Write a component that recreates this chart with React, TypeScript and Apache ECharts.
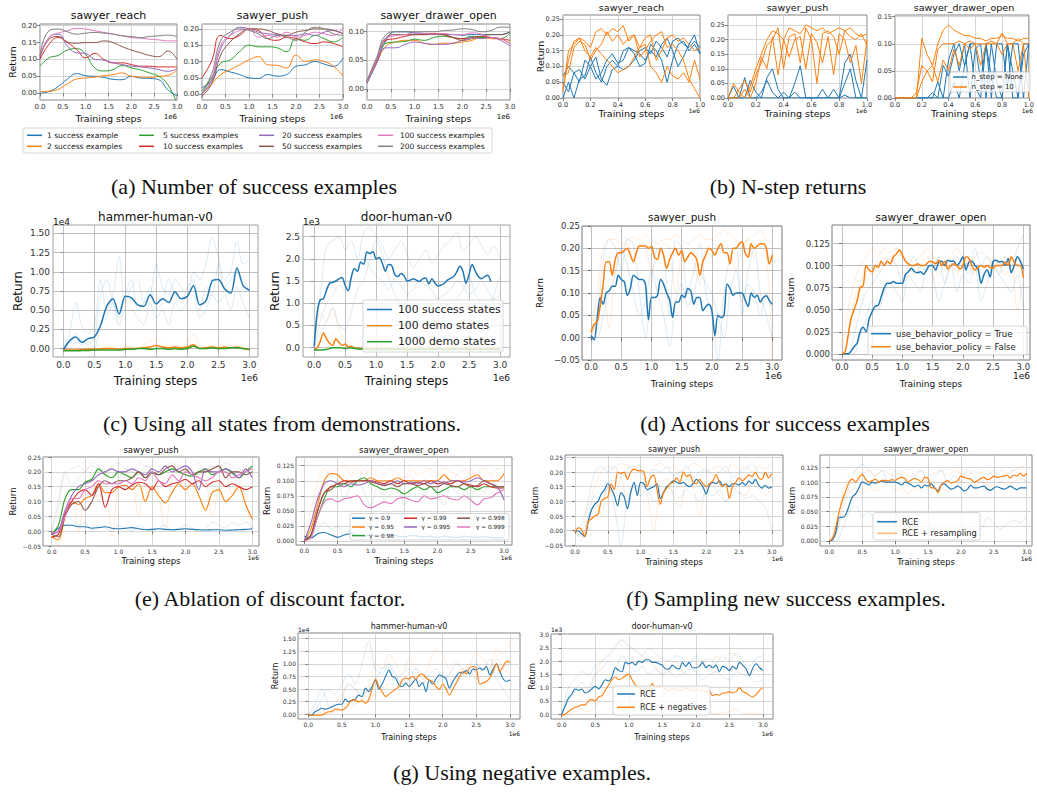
import React, { useEffect, useRef } from "react";
import * as echarts from "echarts";

const BLUE = "#1f77b4", ORANGE = "#ff7f0e", GREEN = "#2ca02c", RED = "#d62728";
const PURPLE = "#9467bd", BROWN = "#8c564b", PINK = "#e377c2", GRAY = "#7f7f7f";
const SANS = "DejaVu Sans";
const SERIF = "Liberation Serif";

// ---------- tick values ----------
const xTicks3 = [0, 0.5, 1, 1.5, 2, 2.5, 3];
const xTicks1 = [0, 0.2, 0.4, 0.6, 0.8, 1.0];
const yTicksA = [0, 0.05, 0.1, 0.15, 0.2];
const yTicksA3 = [0, 0.05, 0.1];
const yTicksB = [0, 0.05, 0.1, 0.15, 0.2, 0.25];
const yTicksB3 = [0, 0.05, 0.1, 0.15];
const yTicksHammer = [0, 0.25, 0.5, 0.75, 1.0, 1.25, 1.5];
const yTicksDoorC = [0, 0.5, 1.0, 1.5, 2.0, 2.5];
const yTicksDoorG = [0, 0.5, 1.0, 1.5, 2.0, 2.5, 3.0];
const yTicksPush = [-0.05, 0, 0.05, 0.1, 0.15, 0.2, 0.25];
const yTicksDrawer = [0, 0.025, 0.05, 0.075, 0.1, 0.125];

// ---------- (a) number of success examples: x step 0.2 ----------
const aLabels = ["1 success example", "2 success examples", "5 success examples", "10 success examples", "20 success examples", "50 success examples", "100 success examples", "200 success examples"];
const aReach1 = [0.000, 0.005, 0.020, 0.042, 0.058, 0.052, 0.050, 0.047, 0.041, 0.040, 0.050, 0.045, 0.044, 0.040, 0.010, -0.008];
const aReach2 = [0.005, 0.006, 0.012, 0.028, 0.042, 0.045, 0.048, 0.052, 0.055, 0.060, 0.050, 0.048, 0.047, 0.050, 0.053, 0.068];
const aReach5 = [0.080, 0.105, 0.112, 0.128, 0.132, 0.115, 0.075, 0.066, 0.070, 0.082, 0.075, 0.069, 0.060, 0.050, 0.025, -0.030];
const aReach10 = [0.100, 0.145, 0.165, 0.150, 0.130, 0.105, 0.118, 0.100, 0.090, 0.090, 0.085, 0.080, 0.080, 0.078, 0.078, 0.078];
const aReach20 = [0.110, 0.165, 0.175, 0.140, 0.120, 0.118, 0.100, 0.098, 0.090, 0.085, 0.080, 0.078, 0.075, 0.070, 0.065, 0.072];
const aReach50 = [0.105, 0.160, 0.168, 0.152, 0.148, 0.150, 0.150, 0.155, 0.150, 0.138, 0.128, 0.120, 0.112, 0.108, 0.125, 0.100];
const aReach100 = [0.110, 0.165, 0.178, 0.185, 0.192, 0.190, 0.185, 0.180, 0.175, 0.170, 0.165, 0.163, 0.160, 0.158, 0.155, 0.155];
const aReach200 = [0.110, 0.185, 0.190, 0.182, 0.175, 0.178, 0.180, 0.178, 0.175, 0.170, 0.168, 0.165, 0.168, 0.170, 0.172, 0.168];

const aPush1 = [0.020, 0.040, 0.075, 0.068, 0.060, 0.050, 0.048, 0.060, 0.055, 0.060, 0.085, 0.090, 0.100, 0.092, 0.085, 0.110];
const aPush2 = [0.000, 0.030, 0.060, 0.075, 0.090, 0.105, 0.115, 0.090, 0.088, 0.080, 0.120, 0.100, 0.105, 0.100, 0.085, 0.055];
const aPush5 = [0.000, 0.050, 0.095, 0.105, 0.130, 0.150, 0.145, 0.145, 0.142, 0.130, 0.170, 0.165, 0.180, 0.170, 0.160, 0.175];
const aPush10 = [0.050, 0.100, 0.180, 0.170, 0.180, 0.200, 0.195, 0.170, 0.165, 0.175, 0.170, 0.160, 0.155, 0.160, 0.155, 0.145];
const aPush20 = [0.000, 0.040, 0.140, 0.180, 0.205, 0.200, 0.190, 0.185, 0.182, 0.180, 0.180, 0.185, 0.180, 0.190, 0.195, 0.185];
const aPush50 = [-0.005, 0.030, 0.120, 0.160, 0.185, 0.200, 0.200, 0.195, 0.185, 0.180, 0.190, 0.195, 0.200, 0.200, 0.195, 0.185];
const aPush100 = [0.000, 0.045, 0.150, 0.180, 0.195, 0.200, 0.175, 0.180, 0.175, 0.190, 0.175, 0.180, 0.190, 0.185, 0.180, 0.205];
const aPush200 = [0.010, 0.060, 0.165, 0.190, 0.200, 0.195, 0.185, 0.170, 0.180, 0.175, 0.165, 0.190, 0.205, 0.200, 0.185, 0.180];

const aDrawer1 = [0.010, 0.045, 0.085, 0.100, 0.100, 0.098, 0.097, 0.096, 0.095, 0.095, 0.094, 0.095, 0.095, 0.095, 0.095, 0.100];
const aDrawer2 = [0.012, 0.045, 0.075, 0.082, 0.085, 0.085, 0.080, 0.078, 0.080, 0.080, 0.082, 0.085, 0.090, 0.088, 0.087, 0.080];
const aDrawer5 = [0.012, 0.050, 0.080, 0.082, 0.083, 0.087, 0.085, 0.090, 0.092, 0.090, 0.088, 0.092, 0.090, 0.090, 0.088, 0.098];
const aDrawer10 = [0.012, 0.050, 0.085, 0.088, 0.092, 0.095, 0.095, 0.097, 0.095, 0.090, 0.088, 0.090, 0.092, 0.090, 0.088, 0.085];
const aDrawer20 = [0.012, 0.045, 0.072, 0.072, 0.078, 0.082, 0.080, 0.078, 0.078, 0.080, 0.085, 0.090, 0.088, 0.090, 0.085, 0.075];
const aDrawer50 = [0.015, 0.050, 0.090, 0.095, 0.095, 0.095, 0.095, 0.095, 0.095, 0.090, 0.085, 0.088, 0.092, 0.095, 0.095, 0.100];
const aDrawer100 = [0.012, 0.050, 0.088, 0.093, 0.095, 0.098, 0.097, 0.096, 0.097, 0.095, 0.095, 0.098, 0.096, 0.090, 0.088, 0.078];
const aDrawer200 = [0.015, 0.055, 0.095, 0.100, 0.100, 0.100, 0.100, 0.100, 0.102, 0.103, 0.105, 0.104, 0.100, 0.102, 0.108, 0.108];

// ---------- (b) n-step returns: x step 0.04 ----------
const bReachO1 = [0.02, 0.15, 0.17, 0.19, 0.18, 0.16, 0.21, 0.22, 0.20, 0.22, 0.21, 0.23, 0.18, 0.20, 0.16, 0.19, 0.20, 0.12, 0.15, 0.19, 0.20, 0.18, 0.19, 0.17, 0.15, 0.16];
const bReachO2 = [0.07, 0.08, 0.16, 0.18, 0.17, 0.12, 0.15, 0.17, 0.21, 0.18, 0.20, 0.17, 0.19, 0.20, 0.13, 0.15, 0.18, 0.20, 0.21, 0.16, 0.17, 0.15, 0.12, 0.06, 0.03, 0.00];
const bReachO3 = [0.03, 0.12, 0.18, 0.19, 0.15, 0.13, 0.16, 0.14, 0.12, 0.10, 0.08, 0.09, 0.10, 0.13, 0.16, 0.17, 0.10, 0.08, 0.05, 0.10, 0.07, 0.06, 0.08, 0.05, 0.12, 0.06];
const bReachB1 = [0.07, 0.10, 0.08, 0.05, 0.12, 0.10, 0.06, 0.08, 0.12, 0.14, 0.11, 0.12, 0.16, 0.15, 0.14, 0.12, 0.15, 0.13, 0.17, 0.19, 0.15, 0.10, 0.13, 0.17, 0.20, 0.14];
const bReachB2 = [0.00, 0.05, 0.00, 0.06, 0.07, 0.13, 0.08, 0.05, 0.10, 0.12, 0.10, 0.15, 0.16, 0.14, 0.10, 0.11, 0.17, 0.15, 0.12, 0.05, 0.12, 0.17, 0.18, 0.15, 0.17, 0.14];
const bReachB3 = [0.05, 0.02, 0.08, 0.09, 0.06, 0.10, 0.13, 0.06, 0.04, 0.09, 0.10, 0.09, 0.10, 0.12, 0.15, 0.16, 0.14, 0.18, 0.16, 0.13, 0.18, 0.19, 0.17, 0.16, 0.18, 0.16];

const bPushO1 = [0.00, 0.05, 0.02, 0.00, 0.04, 0.10, 0.15, 0.20, 0.23, 0.22, 0.20, 0.24, 0.23, 0.22, 0.25, 0.24, 0.23, 0.24, 0.22, 0.23, 0.24, 0.23, 0.24, 0.22, 0.21, 0.22];
const bPushO2 = [0.00, 0.00, 0.03, 0.06, 0.02, 0.08, 0.12, 0.18, 0.20, 0.24, 0.10, 0.21, 0.22, 0.12, 0.24, 0.20, 0.05, 0.22, 0.23, 0.21, 0.15, 0.23, 0.21, 0.20, 0.22, 0.18];
const bPushO3 = [0.00, 0.00, 0.00, 0.03, 0.00, 0.05, 0.14, 0.10, 0.21, 0.08, 0.20, 0.14, 0.20, 0.21, 0.10, 0.22, 0.19, 0.12, 0.21, 0.08, 0.22, 0.20, 0.12, 0.18, 0.05, 0.20];
const bPushB1 = [0.00, 0.04, 0.00, 0.00, 0.06, 0.02, 0.00, 0.07, 0.10, 0.03, 0.00, 0.00, 0.02, 0.00, 0.00, 0.00, 0.00, 0.00, 0.00, 0.03, 0.00, 0.01, 0.00, 0.00, 0.00, 0.00];
const bPushB2 = [0.00, 0.00, 0.00, 0.07, 0.00, 0.00, 0.02, 0.06, 0.02, 0.00, 0.00, 0.00, 0.05, 0.11, 0.00, 0.00, 0.00, 0.00, 0.00, 0.00, 0.00, 0.05, 0.10, 0.00, 0.00, 0.13];
const bPushB3 = [0.00, 0.00, 0.00, 0.00, 0.00, 0.00, 0.00, 0.00, 0.00, 0.00, 0.02, 0.00, 0.00, 0.00, 0.00, 0.00, 0.00, 0.03, 0.00, 0.00, 0.00, 0.12, 0.15, 0.06, 0.00, 0.00];

const bDrawerO1 = [0, 0, 0, 0, 0, 0.11, 0.08, 0.06, 0.10, 0.125, 0.135, 0.125, 0.12, 0.115, 0.115, 0.11, 0.11, 0.105, 0.11, 0.11, 0.115, 0.11, 0.11, 0.105, 0.11, 0.11];
const bDrawerO2 = [0, 0, 0, 0, 0.01, 0.06, 0.05, 0.03, 0.09, 0.10, 0.10, 0.10, 0.105, 0.10, 0.105, 0.10, 0.10, 0.10, 0.105, 0.10, 0.12, 0.10, 0.10, 0.11, 0.10, 0.10];
const bDrawerO3 = [0, 0, 0, 0, 0, 0.03, 0.05, 0.06, 0.03, 0.07, 0.05, 0.09, 0.06, 0.10, 0.09, 0.10, 0.06, 0.10, 0.10, 0.10, 0.08, 0.10, 0.10, 0.05, 0.10, 0.00];
const bDrawerB1 = [0, 0, 0, 0, 0, 0, 0, 0.01, 0, 0.06, 0.04, 0.08, 0.10, 0.06, 0.10, 0.10, 0.03, 0.10, 0, 0.10, 0.10, 0.02, 0.10, 0.10, 0, 0.10];
const bDrawerB2 = [0, 0, 0, 0, 0, 0, 0, 0, 0.03, 0, 0.07, 0.10, 0.05, 0.10, 0, 0.09, 0.10, 0, 0.10, 0.03, 0, 0.10, 0.05, 0, 0.08, 0.10];
const bDrawerB3 = [0, 0, 0, 0, 0, 0, 0, 0, 0, 0, 0, 0.03, 0, 0.06, 0.10, 0.02, 0, 0.10, 0.04, 0, 0, 0.10, 0, 0, 0.10, 0.10];

// ---------- (c) all states from demonstrations ----------
// hammer (x step 0.1, values in 1e4)
const cHammerRCE = [-0.02, 0.10, 0.15, 0.08, 0.13, 0.15, 0.30, 0.55, 0.65, 0.45, 0.68, 0.66, 0.57, 0.55, 0.70, 0.58, 0.65, 0.60, 0.74, 0.65, 0.68, 0.82, 0.57, 0.62, 0.88, 0.90, 0.78, 0.72, 1.05, 0.82, 0.76];
const cHammerDemo100 = [-0.02, -0.02, -0.02, -0.015, -0.01, -0.01, -0.005, 0.0, 0.0, -0.01, 0.0, 0.0, 0.0, 0.01, 0.02, 0.04, 0.02, 0.01, 0.02, 0.01, 0.02, 0.05, 0.0, 0.01, 0.02, 0.01, 0.02, 0.01, 0.02, 0.0, -0.01];
const cHammerDemo1000 = [-0.03, -0.03, -0.03, -0.025, -0.025, -0.02, -0.02, -0.02, -0.02, -0.02, -0.01, -0.01, 0.0, 0.0, -0.01, 0.0, 0.0, -0.01, 0.0, -0.01, 0.0, 0.03, 0.0, 0.0, 0.01, 0.0, 0.0, 0.01, 0.01, 0.0, -0.01];
const cHammerSeed1 = [0, 0.2, 0.6, 0.3, 0.2, 0.3, 0.9, 0.5, 0.7, 1.2, 0.6, 0.8, 0.9, 0.6, 0.7, 1.1, 0.8, 0.7, 0.9, 0.8, 0.7, 1.0, 0.9, 1.1, 1.45, 1.2, 0.9, 1.0, 1.4, 1.1, 1.15];
const cHammerSeed2 = [0, 0.05, 0.2, 0.1, 0.05, 0.15, 0.7, 0.9, 0.6, 0.4, 0.7, 0.9, 0.5, 0.6, 0.8, 0.5, 0.6, 0.9, 0.7, 0.6, 0.8, 0.9, 0.5, 0.8, 0.7, 1.1, 0.8, 0.9, 1.0, 0.9, 0.75];
const cHammerSeed3 = [0, 0, 0.1, 0.05, 0.1, 0.0, 0.3, 0.4, 0.6, 0.3, 0.5, 0.5, 0.4, 0.3, 0.6, 0.4, 0.5, 0.3, 0.6, 0.5, 0.6, 0.7, 0.4, 0.5, 0.7, 0.6, 0.7, 0.5, 0.8, 0.6, 0.4];
const cHammerSeedDemo = [0, 0, 0, 0, 0, 0, 0, 0.02, 0, 0, 0.03, 0.02, 0, 0.05, 0.1, 0.12, 0.04, 0.02, 0.05, 0.03, 0.1, 0.2, 0.05, 0.02, 0.04, 0.03, 0.06, 0.04, 0.05, 0.02, 0];
// door (values in 1e3)
const cDoorRCE = [0.04, 0.8, 1.08, 1.1, 1.3, 1.45, 1.47, 1.5, 1.55, 1.58, 1.4, 1.28, 1.59, 1.78, 1.72, 1.92, 1.88, 2.15, 2.12, 2.16, 2.0, 2.03, 1.9, 1.72, 1.87, 1.85, 1.65, 1.6, 1.67, 1.62, 1.5, 1.52, 1.55, 1.52, 1.49, 1.55, 1.57, 1.43, 1.55, 1.45, 1.39, 1.41, 1.45, 1.52, 1.56, 1.6, 1.7, 1.83, 1.72, 1.45, 1.65, 1.87, 1.72, 1.6, 1.55, 1.6, 1.63, 1.49];
const cDoorDemo100 = [-0.05, 0.0, 0.15, 0.33, 0.2, 0.1, 0.05, 0.2, 0.12, 0.05, 0.08, 0.02, 0.03, -0.02, 0.0, -0.03, -0.03, -0.02, -0.03, -0.02, 0.0, -0.02, -0.03, -0.02, -0.01, -0.02, -0.03, -0.02, -0.02, -0.01, -0.02, -0.03, -0.02, -0.02, -0.01, 0.0, -0.02, -0.03, -0.02, -0.01, -0.02, -0.02, -0.03, -0.02, -0.01, -0.02, -0.03, -0.02, -0.02, -0.01, -0.02, -0.03, -0.02, -0.01, -0.02, -0.03, -0.02, -0.02, -0.01, -0.02, -0.03];
const cDoorDemo1000 = [-0.05, -0.05, -0.04, 0.0, 0.0, -0.02, 0.0, -0.03, -0.03, -0.04, -0.04, -0.03, -0.04, -0.04, -0.03, -0.04, -0.04, -0.03, -0.04, -0.04, -0.03, -0.04, -0.04, -0.03, -0.03, -0.04, -0.04, -0.03, -0.04, -0.04, -0.04];
const cDoorSeed1 = [0, 1.2, 2.3, 2.4, 2.5, 2.2, 2.4, 2.0, 2.6, 2.7, 2.5, 2.3, 2.0, 2.2, 2.4, 2.1, 1.8, 2.0, 2.2, 1.9, 2.1, 2.3, 2.4, 2.6, 2.2, 2.3, 2.5, 2.3, 2.1, 2.3, 2.0];
const cDoorSeed2 = [0, 0.6, 1.0, 1.2, 1.4, 1.3, 1.6, 1.8, 2.0, 1.8, 1.6, 1.5, 1.3, 1.5, 1.4, 1.2, 1.3, 1.5, 1.4, 1.3, 1.1, 1.2, 1.3, 1.5, 1.4, 1.2, 1.3, 1.5, 1.3, 1.1, 1.2];
const cDoorSeed3 = [0, 0.3, 0.6, 0.9, 0.5, 0.4, 0.8, 1.3, 1.5, 2.0, 2.4, 2.1, 1.6, 1.2, 1.0, 0.8, 1.1, 0.9, 1.0, 0.6, 0.5, 0.9, 1.0, 1.1, 1.3, 1.6, 1.2, 1.0, 0.8, 1.2, 1.6];
const cDoorSeedDemo = [0, 0.8, 0.6, 0.9, 0.4, 0.2, 0.1, 0.0, 0.05, 0.0, 0.02, 0.1, 0.2, 0.05, 0.1, 0.15, 0.05, 0.2, 0.1, 0.05, 0.15, 0.1, 0.05, 0.1, 0.2, 0.15, 0.1, 0.05, 0.1, 0.2, 0.15];

// ---------- (d) actions for success examples: x step 0.05 ----------
const dPushFalse = [0.012, 0.03, 0.035, 0.07, 0.12, 0.17, 0.17, 0.14, 0.175, 0.19, 0.19, 0.195, 0.2, 0.185, 0.17, 0.19, 0.205, 0.205, 0.205, 0.2, 0.205, 0.18, 0.175, 0.2, 0.185, 0.155, 0.175, 0.19, 0.2, 0.185, 0.195, 0.17, 0.18, 0.19, 0.185, 0.175, 0.14, 0.17, 0.185, 0.2, 0.195, 0.185, 0.2, 0.21, 0.19, 0.19, 0.165, 0.2, 0.2, 0.21, 0.215, 0.19, 0.18, 0.21, 0.2, 0.205, 0.21, 0.21, 0.2, 0.165, 0.185];
const dPushTrue = [0.005, -0.005, 0.04, 0.09, 0.075, 0.1, 0.105, 0.115, 0.115, 0.14, 0.13, 0.125, 0.095, 0.11, 0.14, 0.135, 0.13, 0.13, 0.12, 0.04, 0.09, 0.09, 0.095, 0.13, 0.12, 0.1, 0.085, 0.045, 0.08, 0.08, 0.095, 0.09, 0.11, 0.105, 0.075, 0.09, 0.09, 0.06, 0.07, 0.075, 0.06, 0.005, 0.05, 0.045, 0.05, 0.12, 0.11, 0.095, 0.1, 0.1, 0.1, 0.085, 0.07, 0.1, 0.09, 0.095, 0.08, 0.09, 0.094, 0.083, 0.075];
const dDrawerFalse = [0.0, 0.002, 0.02, 0.04, 0.05, 0.06, 0.075, 0.077, 0.1, 0.095, 0.093, 0.1, 0.098, 0.105, 0.1, 0.105, 0.102, 0.11, 0.113, 0.118, 0.112, 0.105, 0.102, 0.1, 0.1, 0.102, 0.1, 0.1, 0.102, 0.105, 0.104, 0.102, 0.106, 0.1, 0.105, 0.096, 0.1, 0.102, 0.1, 0.096, 0.1, 0.11, 0.108, 0.1, 0.095, 0.098, 0.1, 0.098, 0.1, 0.098, 0.097, 0.1, 0.1, 0.1, 0.104, 0.1, 0.11, 0.104, 0.1, 0.1, 0.086];
const dDrawerTrue = [0.0, 0.0, 0.0, 0.003, 0.008, 0.012, 0.025, 0.03, 0.025, 0.04, 0.048, 0.054, 0.055, 0.065, 0.075, 0.08, 0.08, 0.082, 0.08, 0.08, 0.08, 0.09, 0.093, 0.097, 0.093, 0.092, 0.093, 0.09, 0.095, 0.1, 0.1, 0.095, 0.104, 0.105, 0.1, 0.106, 0.105, 0.105, 0.1, 0.104, 0.11, 0.095, 0.104, 0.105, 0.1, 0.097, 0.08, 0.09, 0.095, 0.087, 0.105, 0.106, 0.104, 0.105, 0.1, 0.108, 0.092, 0.1, 0.11, 0.105, 0.096];
// faint seeds, x step 0.1
const dPushSeedT1 = [0, 0.05, 0.17, 0.22, 0.2, 0.15, 0.22, 0.21, 0.1, 0.0, 0.12, 0.2, 0.18, 0.05, 0.22, 0.2, 0.1, 0.15, 0.21, 0.1, 0.05, -0.05, 0.1, 0.18, 0.2, 0.05, 0.15, 0.2, 0.1, 0.05, 0.0];
const dPushSeedT2 = [0, 0.0, 0.05, 0.1, 0.14, 0.2, 0.16, 0.1, 0.05, 0.08, 0.15, 0.1, 0.05, -0.02, 0.08, 0.12, 0.07, 0.1, 0.15, 0.12, 0.1, 0.05, 0.0, 0.1, 0.15, 0.08, 0.12, 0.1, 0.05, 0.1, 0.06];
const dPushSeedF1 = [0.01, 0.1, 0.2, 0.22, 0.22, 0.21, 0.22, 0.225, 0.22, 0.23, 0.22, 0.21, 0.22, 0.22, 0.23, 0.22, 0.21, 0.22, 0.23, 0.22, 0.22, 0.23, 0.24, 0.23, 0.22, 0.21, 0.22, 0.23, 0.24, 0.22, 0.21];
const dPushSeedF2 = [0, 0.05, 0.12, 0.02, 0.15, 0.2, 0.21, 0.18, 0.21, 0.2, 0.15, 0.18, 0.21, 0.2, 0.1, 0.19, 0.2, 0.17, 0.12, 0.2, 0.18, 0.2, 0.21, 0.19, 0.15, 0.2, 0.22, 0.18, 0.2, 0.19, -0.05];
const dDrawerSeedT1 = [0, 0.0, 0.02, 0.05, 0.07, 0.08, 0.09, 0.1, 0.11, 0.1, 0.08, 0.1, 0.11, 0.09, 0.1, 0.1, 0.11, 0.08, 0.1, 0.11, 0.1, 0.09, 0.12, 0.1, 0.11, 0.1, 0.09, 0.11, 0.1, 0.12, 0.135];
const dDrawerSeedT2 = [0, 0.0, 0.0, 0.02, 0.04, 0.06, 0.05, 0.07, 0.08, 0.07, 0.06, 0.09, 0.08, 0.07, 0.1, 0.09, 0.06, 0.08, 0.1, 0.07, 0.09, 0.08, 0.1, 0.06, 0.08, 0.1, 0.09, 0.08, 0.07, 0.09, 0.05];
const dDrawerSeedF1 = [0, 0.05, 0.08, 0.1, 0.11, 0.12, 0.11, 0.12, 0.115, 0.12, 0.11, 0.1, 0.105, 0.11, 0.12, 0.11, 0.105, 0.1, 0.11, 0.12, 0.11, 0.1, 0.11, 0.115, 0.11, 0.1, 0.105, 0.11, 0.1, 0.105, 0.1];
const dDrawerSeedF2 = [0, 0.02, 0.06, 0.08, 0.1, 0.09, 0.1, 0.11, 0.1, 0.12, 0.11, 0.1, 0.09, 0.1, 0.11, 0.1, 0.09, 0.1, 0.1, 0.09, 0.11, 0.1, 0.09, 0.1, 0.1, 0.11, 0.1, 0.09, 0.1, 0.05, 0.08];

// ---------- (e) discount factor: x step 0.1 ----------
const eGammaLabels = ["γ = 0.9", "γ = 0.95", "γ = 0.98", "γ = 0.99", "γ = 0.995", "γ = 0.998", "γ = 0.999"];
const ePush09 = [-0.01, 0.01, 0.02, 0.02, 0.015, 0.015, 0.01, 0.012, 0.015, 0.01, 0.008, 0.01, 0.012, 0.008, 0.005, 0.006, 0.008, 0.006, 0.005, 0.006, 0.008, 0.006, 0.005, 0.004, 0.005, 0.005, 0.003, 0.004, 0.005, 0.006, 0.008];
const ePush095 = [-0.02, -0.03, 0.05, 0.1, 0.09, 0.11, 0.12, 0.16, 0.13, 0.13, 0.15, 0.155, 0.14, 0.16, 0.1, 0.15, 0.12, 0.095, 0.13, 0.16, 0.14, 0.16, 0.12, 0.07, 0.13, 0.14, 0.1, 0.12, 0.15, 0.09, 0.04];
const ePush098 = [-0.01, 0.02, 0.11, 0.14, 0.14, 0.165, 0.175, 0.21, 0.19, 0.18, 0.2, 0.19, 0.18, 0.2, 0.18, 0.195, 0.19, 0.2, 0.21, 0.2, 0.19, 0.185, 0.2, 0.21, 0.19, 0.2, 0.21, 0.195, 0.18, 0.2, 0.22];
const ePush099 = [-0.02, -0.01, 0.06, 0.1, 0.13, 0.14, 0.12, 0.16, 0.08, 0.14, 0.15, 0.14, 0.155, 0.165, 0.16, 0.14, 0.17, 0.15, 0.16, 0.165, 0.175, 0.16, 0.17, 0.15, 0.165, 0.17, 0.15, 0.16, 0.15, 0.14, 0.15];
const ePush0995 = [-0.01, 0.0, 0.07, 0.12, 0.15, 0.16, 0.17, 0.19, 0.2, 0.21, 0.2, 0.2, 0.21, 0.2, 0.19, 0.21, 0.2, 0.22, 0.2, 0.21, 0.22, 0.2, 0.14, 0.21, 0.2, 0.2, 0.21, 0.2, 0.18, 0.21, 0.18];
const ePush0998 = [-0.01, -0.02, 0.05, 0.09, 0.1, 0.07, 0.1, 0.15, 0.17, 0.16, 0.17, 0.17, 0.18, 0.2, 0.18, 0.2, 0.19, 0.21, 0.22, 0.2, 0.21, 0.19, 0.2, 0.2, 0.21, 0.22, 0.18, 0.2, 0.2, 0.19, 0.2];
const ePush0999 = [-0.005, 0.0, 0.05, 0.11, 0.11, 0.14, 0.15, 0.17, 0.16, 0.16, 0.16, 0.17, 0.16, 0.18, 0.17, 0.2, 0.17, 0.16, 0.19, 0.17, 0.2, 0.19, 0.18, 0.17, 0.18, 0.2, 0.2, 0.18, 0.19, 0.2, 0.21];
const ePushSeed1 = [0, 0.08, 0.2, 0.21, 0.22, 0.2, 0.23, 0.22, 0.19, 0.22, 0.23, 0.21, 0.2, 0.23, 0.22, 0.21, 0.19, 0.22, 0.23, 0.21, 0.2, 0.22, 0.23, 0.2, 0.22, 0.21, 0.23, 0.22, 0.19, 0.22, 0.21];
const ePushSeed2 = [0, -0.05, 0.05, 0.12, 0.0, 0.15, 0.18, 0.1, 0.2, -0.02, 0.15, 0.2, 0.18, 0.05, 0.17, 0.2, 0.12, 0.0, 0.18, 0.2, 0.15, 0.1, 0.2, 0.18, 0.05, 0.15, 0.2, 0.12, 0.18, 0.1, 0.0];
const ePushSeed3 = [0, 0.1, 0.2, 0.15, 0.18, 0.2, 0.22, 0.21, 0.2, 0.22, 0.18, 0.21, 0.2, 0.19, 0.22, 0.21, 0.2, 0.18, 0.21, 0.22, 0.2, 0.21, 0.19, 0.2, 0.22, 0.21, 0.2, 0.19, 0.21, 0.2, 0.22];
const ePushSeed4 = [0, 0.02, 0.05, 0.04, 0.02, 0.03, 0.0, 0.02, 0.01, 0.0, 0.02, 0.01, 0.0, 0.02, 0.01, 0.0, 0.01, 0.02, 0.0, 0.01, 0.02, 0.01, 0.0, 0.01, 0.03, 0.02, 0.01, 0.03, 0.02, 0.03, 0.01];
const eDrawer09 = [0.008, 0.005, 0.012, 0.014, 0.01, 0.006, 0.01, 0.012, 0.01, 0.008, 0.01, 0.008, 0.009, 0.01, 0.008, 0.007, 0.009, 0.008, 0.007, 0.008, 0.006, 0.008, 0.007, 0.006, 0.008, 0.007, 0.006, 0.007, 0.006, 0.005, 0.006];
const eDrawer095 = [0, 0.02, 0.06, 0.1, 0.112, 0.11, 0.1, 0.1, 0.1, 0.1, 0.105, 0.1, 0.1, 0.1, 0.105, 0.1, 0.1, 0.1, 0.1, 0.1, 0.1, 0.11, 0.1, 0.1, 0.1, 0.105, 0.11, 0.1, 0.1, 0.1, 0.112];
const eDrawer098 = [0, 0.01, 0.04, 0.07, 0.09, 0.09, 0.095, 0.09, 0.1, 0.105, 0.095, 0.09, 0.085, 0.088, 0.085, 0.078, 0.085, 0.09, 0.085, 0.09, 0.08, 0.085, 0.09, 0.09, 0.085, 0.09, 0.085, 0.09, 0.09, 0.09, 0.09];
const eDrawer099 = [0, 0.01, 0.05, 0.08, 0.09, 0.095, 0.1, 0.098, 0.1, 0.1, 0.1, 0.098, 0.095, 0.1, 0.095, 0.1, 0.095, 0.098, 0.095, 0.1, 0.095, 0.098, 0.095, 0.1, 0.095, 0.093, 0.09, 0.095, 0.09, 0.088, 0.088];
const eDrawer0995 = [0, 0.03, 0.07, 0.095, 0.1, 0.095, 0.09, 0.095, 0.093, 0.095, 0.1, 0.095, 0.093, 0.095, 0.1, 0.095, 0.098, 0.095, 0.1, 0.095, 0.1, 0.095, 0.1, 0.1, 0.098, 0.1, 0.105, 0.1, 0.095, 0.09, 0.068];
const eDrawer0998 = [0, 0.01, 0.05, 0.08, 0.085, 0.095, 0.095, 0.1, 0.1, 0.1, 0.098, 0.095, 0.092, 0.095, 0.09, 0.095, 0.095, 0.092, 0.095, 0.09, 0.09, 0.095, 0.092, 0.09, 0.095, 0.09, 0.092, 0.1, 0.095, 0.09, 0.09];
const eDrawer0999 = [0, 0.005, 0.04, 0.065, 0.07, 0.065, 0.07, 0.072, 0.075, 0.06, 0.055, 0.06, 0.065, 0.062, 0.07, 0.072, 0.068, 0.065, 0.075, 0.07, 0.072, 0.075, 0.07, 0.068, 0.075, 0.068, 0.06, 0.07, 0.072, 0.08, 0.085];
const eDrawerSeed1 = [0, 0.05, 0.1, 0.12, 0.11, 0.12, 0.125, 0.11, 0.12, 0.11, 0.12, 0.115, 0.11, 0.12, 0.11, 0.105, 0.12, 0.11, 0.115, 0.12, 0.11, 0.12, 0.115, 0.11, 0.12, 0.11, 0.115, 0.12, 0.11, 0.12, 0.11];
const eDrawerSeed2 = [0, 0.02, 0.06, 0.09, 0.08, 0.1, 0.07, 0.09, 0.1, 0.08, 0.06, 0.09, 0.07, 0.08, 0.1, 0.06, 0.08, 0.09, 0.07, 0.1, 0.08, 0.06, 0.09, 0.08, 0.1, 0.07, 0.09, 0.08, 0.1, 0.09, 0.07];
const eDrawerSeed3 = [0.005, 0.01, 0.02, 0.03, 0.02, 0.025, 0.01, 0.02, 0.015, 0.03, 0.02, 0.01, 0.02, 0.015, 0.01, 0.02, 0.01, 0.015, 0.005, 0.01, 0.02, 0.01, 0.005, 0.01, 0.015, 0.01, 0.005, 0.01, 0.015, 0.01, 0.005];
const eDrawerSeed4 = [0, 0.03, 0.08, 0.1, 0.12, 0.1, 0.11, 0.09, 0.1, 0.12, 0.1, 0.11, 0.09, 0.1, 0.08, 0.1, 0.11, 0.09, 0.1, 0.11, 0.1, 0.09, 0.1, 0.11, 0.1, 0.12, 0.1, 0.09, 0.1, 0.11, 0.1];

// ---------- (f) resampling: x step 0.05 ----------
const fPushRCE = [-0.005, 0.0, -0.01, -0.02, 0.03, 0.07, 0.09, 0.1, 0.125, 0.14, 0.16, 0.145, 0.12, 0.085, 0.13, 0.115, 0.075, 0.13, 0.165, 0.12, 0.165, 0.16, 0.14, 0.145, 0.15, 0.16, 0.11, 0.13, 0.15, 0.16, 0.17, 0.165, 0.16, 0.165, 0.155, 0.15, 0.16, 0.175, 0.165, 0.15, 0.125, 0.155, 0.165, 0.16, 0.17, 0.155, 0.16, 0.15, 0.16, 0.16, 0.155, 0.165, 0.155, 0.17, 0.16, 0.175, 0.155, 0.145, 0.155, 0.145, 0.15];
const fPushResample = [-0.005, 0.01, 0.005, -0.02, 0.03, 0.04, 0.05, 0.055, 0.1, 0.11, 0.115, 0.16, 0.14, 0.2, 0.195, 0.2, 0.175, 0.2, 0.21, 0.205, 0.205, 0.2, 0.15, 0.18, 0.19, 0.14, 0.09, 0.13, 0.145, 0.16, 0.165, 0.18, 0.165, 0.2, 0.185, 0.19, 0.165, 0.16, 0.175, 0.16, 0.15, 0.16, 0.17, 0.19, 0.165, 0.15, 0.16, 0.11, 0.15, 0.165, 0.18, 0.17, 0.18, 0.19, 0.185, 0.2, 0.18, 0.175, 0.2, 0.18, 0.195];
const fDrawerRCE = [0, 0.002, 0.015, 0.04, 0.04, 0.045, 0.06, 0.075, 0.08, 0.09, 0.1, 0.098, 0.095, 0.1, 0.098, 0.1, 0.102, 0.1, 0.1, 0.1, 0.1, 0.098, 0.095, 0.1, 0.098, 0.095, 0.092, 0.095, 0.09, 0.095, 0.093, 0.097, 0.09, 0.085, 0.095, 0.097, 0.092, 0.088, 0.09, 0.093, 0.09, 0.085, 0.088, 0.095, 0.09, 0.09, 0.092, 0.093, 0.088, 0.086, 0.09, 0.092, 0.09, 0.088, 0.09, 0.093, 0.09, 0.087, 0.09, 0.09, 0.09];
const fDrawerResample = [0, 0.005, 0.025, 0.05, 0.07, 0.085, 0.1, 0.105, 0.1, 0.108, 0.113, 0.105, 0.1, 0.102, 0.105, 0.1, 0.103, 0.103, 0.102, 0.104, 0.103, 0.106, 0.108, 0.106, 0.1, 0.104, 0.106, 0.104, 0.1, 0.108, 0.106, 0.09, 0.09, 0.082, 0.095, 0.1, 0.103, 0.098, 0.1, 0.102, 0.11, 0.108, 0.106, 0.105, 0.1, 0.102, 0.106, 0.108, 0.104, 0.106, 0.11, 0.108, 0.109, 0.11, 0.112, 0.107, 0.112, 0.11, 0.115, 0.11, 0.115];
// faint seeds, x step 0.1
const fPushSeedR1 = [0, 0.02, 0.1, 0.2, 0.22, 0.2, 0.22, 0.18, 0.21, 0.22, 0.2, 0.18, 0.21, 0.2, 0.22, 0.19, 0.2, 0.22, 0.18, 0.2, 0.21, 0.19, 0.2, 0.22, 0.18, 0.2, 0.21, 0.23, 0.2, 0.19, 0.2];
const fPushSeedR2 = [0, -0.02, 0.05, 0.12, 0.1, 0.15, 0.08, -0.05, 0.1, 0.15, 0.12, 0.14, 0.1, 0.12, 0.15, 0.13, 0.11, 0.14, 0.12, 0.1, 0.13, 0.12, 0.14, 0.1, 0.12, 0.13, 0.11, 0.12, 0.1, 0.08, 0.0];
const fPushSeedS1 = [0, 0.0, 0.08, 0.15, 0.2, 0.22, 0.21, 0.23, 0.22, 0.21, 0.22, 0.2, 0.22, 0.23, 0.21, 0.22, 0.2, 0.21, 0.23, 0.22, 0.2, 0.21, 0.22, 0.2, 0.23, 0.21, 0.22, 0.2, 0.22, 0.21, 0.23];
const fPushSeedS2 = [0, -0.03, 0.02, 0.1, 0.05, 0.15, 0.12, 0.18, 0.1, 0.16, 0.14, 0.12, 0.0, 0.15, 0.18, 0.12, 0.08, 0.16, 0.15, 0.05, 0.14, 0.16, 0.12, 0.1, 0.15, 0.13, 0.12, 0.16, 0.14, 0.12, 0.15];
const fDrawerSeedR1 = [0, 0.01, 0.06, 0.09, 0.12, 0.13, 0.12, 0.11, 0.12, 0.1, 0.12, 0.11, 0.1, 0.11, 0.12, 0.1, 0.11, 0.12, 0.1, 0.11, 0.1, 0.12, 0.11, 0.1, 0.11, 0.12, 0.1, 0.11, 0.12, 0.11, 0.1];
const fDrawerSeedR2 = [0, 0.0, 0.02, 0.05, 0.06, 0.04, 0.05, 0.03, 0.05, 0.04, 0.05, 0.03, 0.04, 0.05, 0.03, 0.03, 0.04, 0.03, 0.02, 0.03, 0.04, 0.03, 0.03, 0.02, 0.04, 0.03, 0.02, 0.03, 0.035, 0.03, 0.045];
const fDrawerSeedS1 = [0, 0.02, 0.08, 0.11, 0.12, 0.115, 0.12, 0.11, 0.12, 0.115, 0.11, 0.12, 0.11, 0.115, 0.12, 0.11, 0.115, 0.12, 0.11, 0.12, 0.115, 0.11, 0.12, 0.115, 0.12, 0.11, 0.12, 0.115, 0.12, 0.125, 0.13];
const fDrawerSeedS2 = [0, 0.01, 0.05, 0.08, 0.09, 0.08, 0.09, 0.085, 0.09, 0.1, 0.085, 0.09, 0.08, 0.09, 0.085, 0.09, 0.1, 0.09, 0.085, 0.09, 0.1, 0.095, 0.09, 0.1, 0.095, 0.09, 0.1, 0.095, 0.1, 0.105, 0.1];

// ---------- (g) negative examples: x step 0.05 ----------
const gHammerRCE = [-0.02, -0.02, 0.05, 0.08, 0.12, 0.1, 0.12, 0.15, 0.18, 0.2, 0.2, 0.3, 0.25, 0.28, 0.3, 0.38, 0.35, 0.52, 0.45, 0.55, 0.68, 0.5, 0.6, 0.75, 0.88, 0.75, 0.72, 0.58, 0.55, 0.62, 0.55, 0.62, 0.7, 0.55, 0.63, 0.45, 0.68, 0.6, 0.7, 0.78, 0.75, 0.7, 0.52, 0.65, 0.75, 0.83, 0.82, 0.87, 0.8, 0.9, 0.88, 0.92, 0.88, 0.95, 0.78, 0.9, 1.0, 0.85, 0.7, 0.65, 0.68];
const gHammerNeg = [-0.02, -0.02, -0.02, -0.02, -0.02, 0.02, 0.05, 0.05, 0.1, 0.1, 0.08, 0.12, 0.2, 0.28, 0.28, 0.25, 0.27, 0.22, 0.3, 0.5, 0.7, 0.55, 0.45, 0.35, 0.4, 0.45, 0.5, 0.55, 0.68, 0.72, 0.7, 0.75, 0.7, 0.78, 0.8, 0.72, 0.68, 0.65, 0.55, 0.5, 0.6, 0.5, 0.38, 0.5, 0.62, 0.75, 0.85, 0.8, 0.92, 0.95, 0.9, 0.6, 0.62, 0.65, 0.72, 0.85, 1.0, 0.85, 0.95, 1.05, 1.03];
const gDoorRCE = [0.0, 0.3, 0.6, 0.75, 0.95, 0.9, 0.95, 0.8, 0.85, 0.95, 1.05, 0.95, 1.1, 1.3, 1.25, 1.4, 1.75, 1.65, 1.6, 1.95, 1.9, 1.95, 1.85, 2.0, 1.95, 2.05, 2.05, 1.95, 1.95, 1.9, 1.85, 1.7, 1.7, 1.85, 1.75, 1.7, 1.95, 1.8, 1.95, 1.75, 1.75, 1.8, 1.95, 1.75, 1.85, 1.75, 1.85, 1.6, 1.8, 1.75, 1.65, 1.8, 1.7, 1.95, 1.85, 1.7, 1.45, 1.75, 1.9, 1.75, 1.65];
const gDoorNeg = [-0.05, 0.0, 0.1, 0.2, 0.25, 0.3, 0.35, 0.35, 0.5, 0.55, 0.5, 0.65, 0.7, 0.9, 1.1, 1.3, 1.4, 1.3, 1.35, 1.45, 1.5, 1.3, 1.1, 1.0, 0.9, 1.0, 0.95, 1.15, 1.0, 1.05, 1.0, 0.95, 0.9, 0.95, 0.95, 0.9, 0.92, 1.0, 0.92, 0.9, 0.9, 0.92, 0.88, 0.85, 0.9, 0.7, 0.75, 0.72, 0.8, 0.8, 0.85, 0.8, 0.85, 1.0, 0.85, 0.8, 0.7, 0.65, 0.75, 0.9, 1.0];
// faint seeds, x step 0.1
const gHammerSeedR1 = [0, 0.1, 0.3, 0.5, 0.4, 0.6, 0.8, 0.6, 1.0, 1.45, 0.9, 0.8, 1.0, 0.7, 0.8, 0.9, 0.7, 0.6, 0.8, 0.9, 0.7, 0.8, 1.0, 0.9, 0.8, 1.0, 0.9, 1.1, 0.8, 0.9, 1.1];
const gHammerSeedR2 = [0, 0.2, 0.5, 0.2, 0.1, 0.3, 0.6, 0.5, 0.4, 0.5, 0.7, 0.9, 1.0, 0.8, 0.6, 0.7, 0.9, 0.8, 0.7, 0.6, 0.8, 0.7, 0.6, 0.8, 0.9, 0.7, 0.8, 0.9, 0.7, 0.5, 0.3];
const gHammerSeedN1 = [0, 0, 0.05, 0.1, 0.2, 0.4, 0.6, 0.5, 0.3, 0.6, 1.0, 0.9, 1.2, 1.0, 0.8, 1.1, 0.9, 0.7, 1.0, 1.3, 1.2, 0.9, 1.1, 0.8, 1.0, 1.2, 1.1, 0.9, 1.3, 1.2, 1.45];
const gHammerSeedN2 = [0, 0, 0, 0.02, 0.05, 0.1, 0.15, 0.2, 0.3, 0.25, 0.4, 0.5, 0.6, 0.5, 0.7, 0.6, 0.5, 0.7, 0.6, 0.5, 0.4, 0.6, 0.8, 0.9, 1.0, 0.8, 0.7, 0.9, 1.1, 0.9, 0.8];
const gDoorSeedR1 = [0, 1.0, 1.3, 1.6, 1.5, 1.8, 2.0, 2.2, 2.5, 2.8, 2.6, 2.4, 2.2, 2.5, 2.3, 2.1, 2.0, 2.2, 2.1, 1.9, 2.2, 2.0, 2.1, 1.9, 2.2, 2.0, 2.3, 2.0, 1.8, 2.1, 2.2];
const gDoorSeedR2 = [0, 0.5, 0.9, 1.2, 0.9, 1.5, 1.7, 2.0, 1.8, 2.2, 1.9, 1.6, 1.8, 1.5, 1.7, 1.5, 1.6, 1.4, 1.5, 1.7, 1.6, 1.3, 1.5, 1.6, 1.4, 1.3, 1.6, 1.5, 1.4, 1.2, 1.3];
const gDoorSeedN1 = [0, 0.1, 0.3, 0.6, 1.0, 1.5, 2.0, 2.3, 2.6, 2.8, 2.5, 2.4, 2.2, 2.0, 1.8, 1.5, 1.8, 2.0, 1.6, 1.5, 1.8, 2.0, 1.7, 2.2, 2.0, 2.3, 2.2, 1.8, 1.5, 1.7, 1.8];
const gDoorSeedN2 = [0, 0.0, 0.1, 0.2, 0.1, 0.3, 0.6, 0.8, 1.1, 0.8, 0.6, 0.5, 0.4, 0.5, 0.3, 0.2, 0.3, 0.2, 0.1, 0.2, 0.3, 0.2, 0.1, 0.0, 0.05, 0.1, 0.2, 0.0, 0.05, 0.0, 0.0];

// ---------- helpers ----------
type Ln = { d: number[]; s: number; c: string; w?: number; op?: number; sm?: number | boolean };
type Panel = {
  L: number; T: number; W: number; H: number;
  xr: number[]; xt: number[]; xd: number;
  yr: number[]; yt: number[]; yd: number;
  title: string; ts: number; ty: number; fs: number; lm: number;
  xlY: number; xlS: number; offY: number; offS: number;
  ret: number; retS: number; mult?: string; multY?: number; multS?: number;
  frame: string; gridC: string; lines: Ln[];
};

const A_COLORS = [BLUE, ORANGE, GREEN, RED, PURPLE, BROWN, PINK, GRAY];
const E_COLORS = [BLUE, ORANGE, GREEN, RED, PURPLE, BROWN, PINK];

const toPairs = (d: number[], s: number) => d.map((v, i) => [Math.round(i * s * 1000) / 1000, v]);
const fmt = (dec: number) => (v: number) => (v < -1e-9 ? "\u2212" : "") + Math.abs(v).toFixed(dec);

const mainA = (arr: number[][]): Ln[] => arr.map((d, i) => ({ d, s: 0.2, c: A_COLORS[i], w: 1, sm: 0.5 }));
const seedsB = (blue: number[][], orange: number[][]): Ln[] => [
  ...blue.map((d) => ({ d, s: 0.04, c: BLUE, w: 1, sm: false })),
  ...orange.map((d) => ({ d, s: 0.04, c: ORANGE, w: 1, sm: false })),
];
const faint = (d: number[], c: string, s = 0.1): Ln => ({ d, s, c, w: 1, op: 0.15, sm: 0.3 });

const A_BASE = { T: 24, H: 76, xr: [0, 3], xt: xTicks3, xd: 1, yd: 2, ts: 11, ty: 15, fs: 7, lm: 3, xlY: 118.5, xlS: 9.5, offY: 116.5, offS: 7, retS: 9.5, frame: "#666", gridC: "#cccccc" };
const B_BASE = { T: 15, H: 83, xr: [0, 1], xt: xTicks1, xd: 1, yd: 2, ts: 9.5, ty: 7.5, fs: 6.5, lm: 3, xlY: 113, xlS: 9.5, offY: 110, offS: 6, retS: 9.5, frame: "#666", gridC: "#cccccc" };
const C_BASE = { T: 225, H: 132, xt: xTicks3, xd: 1, ts: 12, ty: 217, fs: 9, lm: 3, xlY: 381, xlS: 12, offY: 378, offS: 9, retS: 12, multY: 221.5, multS: 9, frame: "#888", gridC: "#b0b0b0" };
const D_BASE = { xt: xTicks3, xd: 1, ts: 10.5, ty: 217, fs: 8.5, lm: 2, xlY: 384, xlS: 9, offY: 375.5, offS: 9, retS: 9, frame: "#555", gridC: "#b0b0b0" };
const E_BASE = { T: 457, xt: xTicks3, xd: 1, ts: 8.5, ty: 450, fs: 6, lm: 2, xlY: 561, xlS: 8.5, offY: 557.5, offS: 6, retS: 8.5, frame: "#666", gridC: "#cccccc" };
const F_BASE = { T: 455, H: 91, xt: xTicks3, xd: 1, ts: 8, ty: 449.5, fs: 6, lm: 2, xlY: 561.5, xlS: 8.3, offY: 558, offS: 6, retS: 8.3, frame: "#666", gridC: "#cccccc" };
const G_BASE = { xt: xTicks3, xd: 1, ts: 8, ty: 626.5, fs: 6, lm: 2, xlY: 737.5, xlS: 8, offY: 733, offS: 6, retS: 8, multY: 629, multS: 6, frame: "#666", gridC: "#cccccc" };

const panels: Panel[] = [
  { ...A_BASE, L: 40, W: 137, yr: [-0.02, 0.205], yt: yTicksA, title: "sawyer_reach", ret: 12,
    lines: mainA([aReach1, aReach2, aReach5, aReach10, aReach20, aReach50, aReach100, aReach200]) },
  { ...A_BASE, L: 202, W: 141, yr: [-0.018, 0.215], yt: yTicksA, title: "sawyer_push", ret: -1,
    lines: mainA([aPush1, aPush2, aPush5, aPush10, aPush20, aPush50, aPush100, aPush200]) },
  { ...A_BASE, L: 367, W: 143, yr: [-0.019, 0.1135], yt: yTicksA3, title: "sawyer_drawer_open", ret: -1,
    lines: mainA([aDrawer1, aDrawer2, aDrawer5, aDrawer10, aDrawer20, aDrawer50, aDrawer100, aDrawer200]) },
  { ...B_BASE, L: 563, W: 137, yr: [0, 0.263], yt: yTicksB, title: "sawyer_reach", ret: 540,
    lines: seedsB([bReachB1, bReachB2, bReachB3], [bReachO1, bReachO2, bReachO3]) },
  { ...B_BASE, L: 728, W: 139, yr: [0, 0.284], yt: yTicksB, title: "sawyer_push", ret: -1,
    lines: seedsB([bPushB1, bPushB2, bPushB3], [bPushO1, bPushO2, bPushO3]) },
  { ...B_BASE, L: 895, W: 138, yr: [0, 0.153], yt: yTicksB3, title: "sawyer_drawer_open", ret: -1,
    lines: seedsB([bDrawerB1, bDrawerB2, bDrawerB3], [bDrawerO1, bDrawerO2, bDrawerO3]) },
  { ...C_BASE, L: 53, W: 205, xr: [-0.166, 3.14], yr: [-0.11, 1.61], yt: yTicksHammer, yd: 2, title: "hammer-human-v0", ret: 18, mult: "1e4",
    lines: [faint(cHammerSeed1, BLUE), faint(cHammerSeed2, BLUE), faint(cHammerSeed3, BLUE), faint(cHammerSeedDemo, ORANGE),
      { d: cHammerRCE, s: 0.1, c: BLUE, w: 1.5, sm: 0.3 }, { d: cHammerDemo100, s: 0.1, c: ORANGE, w: 1.5, sm: 0.3 }, { d: cHammerDemo1000, s: 0.1, c: GREEN, w: 1.5, sm: 0.3 }] },
  { ...C_BASE, L: 303, W: 207, xr: [-0.18, 3.16], yr: [-0.21, 2.76], yt: yTicksDoorC, yd: 1, title: "door-human-v0", ret: 275, mult: "1e3",
    lines: [faint(cDoorSeed1, BLUE), faint(cDoorSeed2, BLUE), faint(cDoorSeed3, BLUE), faint(cDoorSeedDemo, ORANGE),
      { d: cDoorRCE, s: 0.05, c: BLUE, w: 1.5, sm: 0.3 }, { d: cDoorDemo100, s: 0.05, c: ORANGE, w: 1.5, sm: 0.3 }, { d: cDoorDemo1000, s: 0.1, c: GREEN, w: 1.5, sm: 0.3 }] },
  { ...D_BASE, L: 582, T: 226, W: 200, H: 134, xr: [-0.15, 3.16], yr: [-0.05, 0.25], yt: yTicksPush, yd: 2, title: "sawyer_push", ret: 540,
    lines: [faint(dPushSeedT1, BLUE), faint(dPushSeedT2, BLUE), faint(dPushSeedF1, ORANGE), faint(dPushSeedF2, ORANGE),
      { d: dPushTrue, s: 0.05, c: BLUE, w: 1.5, sm: 0.3 }, { d: dPushFalse, s: 0.05, c: ORANGE, w: 1.5, sm: 0.3 }] },
  { ...D_BASE, L: 832, T: 225, W: 198, H: 135, xr: [-0.165, 3.11], yr: [-0.007, 0.146], yt: yTicksDrawer, yd: 3, title: "sawyer_drawer_open", ret: 791,
    lines: [faint(dDrawerSeedT1, BLUE), faint(dDrawerSeedT2, BLUE), faint(dDrawerSeedF1, ORANGE), faint(dDrawerSeedF2, ORANGE),
      { d: dDrawerTrue, s: 0.05, c: BLUE, w: 1.5, sm: 0.3 }, { d: dDrawerFalse, s: 0.05, c: ORANGE, w: 1.5, sm: 0.3 }] },
  { ...E_BASE, L: 43, W: 216, H: 89, xr: [-0.13, 3.1], yr: [-0.05, 0.25], yt: yTicksPush, yd: 2, title: "sawyer_push", ret: 13,
    lines: [faint(ePushSeed1, PINK), faint(ePushSeed2, ORANGE), faint(ePushSeed3, GREEN), faint(ePushSeed4, BLUE),
      ...[ePush09, ePush095, ePush098, ePush099, ePush0995, ePush0998, ePush0999].map((d, i) => ({ d, s: 0.1, c: E_COLORS[i], w: 1.1, sm: 0.3 }))] },
  { ...E_BASE, L: 296, W: 216, H: 88, xr: [-0.125, 3.12], yr: [-0.0067, 0.1395], yt: yTicksDrawer, yd: 3, title: "sawyer_drawer_open", ret: 267,
    lines: [faint(eDrawerSeed1, ORANGE), faint(eDrawerSeed2, GREEN), faint(eDrawerSeed3, BLUE), faint(eDrawerSeed4, PINK),
      ...[eDrawer09, eDrawer095, eDrawer098, eDrawer099, eDrawer0995, eDrawer0998, eDrawer0999].map((d, i) => ({ d, s: 0.1, c: E_COLORS[i], w: 1.1, sm: 0.3 }))] },
  { ...F_BASE, L: 565, W: 218, xr: [-0.152, 3.17], yr: [-0.052, 0.258], yt: yTicksPush, yd: 2, title: "sawyer_push", ret: 535,
    lines: [faint(fPushSeedR1, BLUE), faint(fPushSeedR2, BLUE), faint(fPushSeedS1, ORANGE), faint(fPushSeedS2, ORANGE),
      { d: fPushRCE, s: 0.05, c: BLUE, w: 1.2, sm: 0.3 }, { d: fPushResample, s: 0.05, c: ORANGE, w: 1.2, sm: 0.3 }] },
  { ...F_BASE, L: 820, W: 212, xr: [-0.142, 3.08], yr: [-0.0085, 0.1459], yt: yTicksDrawer, yd: 3, title: "sawyer_drawer_open", ret: 792,
    lines: [faint(fDrawerSeedR1, BLUE), faint(fDrawerSeedR2, BLUE), faint(fDrawerSeedS1, ORANGE), faint(fDrawerSeedS2, ORANGE),
      { d: fDrawerRCE, s: 0.05, c: BLUE, w: 1.2, sm: 0.3 }, { d: fDrawerResample, s: 0.05, c: ORANGE, w: 1.2, sm: 0.3 }] },
  { ...G_BASE, L: 298, T: 633, W: 222, H: 86, xr: [-0.153, 3.15], yr: [-0.094, 1.614], yt: yTicksHammer, yd: 2, title: "hammer-human-v0", ret: 275, mult: "1e4",
    lines: [faint(gHammerSeedR1, BLUE), faint(gHammerSeedR2, BLUE), faint(gHammerSeedN1, ORANGE), faint(gHammerSeedN2, ORANGE),
      { d: gHammerRCE, s: 0.05, c: BLUE, w: 1.1, sm: 0.3 }, { d: gHammerNeg, s: 0.05, c: ORANGE, w: 1.1, sm: 0.3 }] },
  { ...G_BASE, L: 551, T: 634, W: 222, H: 85, xr: [-0.159, 3.15], yr: [-0.18, 3.02], yt: yTicksDoorG, yd: 1, title: "door-human-v0", ret: 532, mult: "1e3",
    lines: [faint(gDoorSeedR1, BLUE), faint(gDoorSeedR2, BLUE), faint(gDoorSeedN1, ORANGE), faint(gDoorSeedN2, ORANGE),
      { d: gDoorRCE, s: 0.05, c: BLUE, w: 1.1, sm: 0.3 }, { d: gDoorNeg, s: 0.05, c: ORANGE, w: 1.1, sm: 0.3 }] },
];

type LegItem = { c: string; t: string; lx: number; ly: number; tx: number; op?: number };
function legend(x: number, y: number, w: number, h: number, len: number, fs: number, items: LegItem[]): any[] {
  const out: any[] = [{ type: "rect", z: 100, shape: { x, y, width: w, height: h, r: 2 }, style: { fill: "rgba(255,255,255,0.8)", stroke: "#cccccc", lineWidth: 0.8 } }];
  items.forEach((it) => {
    out.push({ type: "line", z: 101, shape: { x1: it.lx, y1: it.ly, x2: it.lx + len, y2: it.ly }, style: { stroke: it.c, lineWidth: 1.5, opacity: it.op ?? 1 } });
    out.push({ type: "text", z: 101, x: it.tx, y: it.ly, style: { text: it.t, fontSize: fs, fontFamily: SANS, fill: "#222", align: "left", verticalAlign: "middle" } });
  });
  return out;
}

function txt(x: number, y: number, text: string, size: number, align = "center", family = SANS, rot = 0): any {
  return { type: "text", z: 100, x, y, rotation: rot, style: { text, fontSize: size, fontFamily: family, fill: "#111", align, verticalAlign: "middle" } };
}

function buildOption() {
  const grid: any[] = [], xAxis: any[] = [], yAxis: any[] = [], series: any[] = [], graphic: any[] = [];
  panels.forEach((p, i) => {
    grid.push({ left: p.L, top: p.T, width: p.W, height: p.H, show: true, borderColor: p.frame, borderWidth: 0.8, backgroundColor: "transparent" });
    const axisCommon = (ticks: number[], dec: number) => ({
      gridIndex: i, type: "value",
      axisLine: { show: false },
      axisTick: { show: true, length: 3, lineStyle: { color: p.frame, width: 0.8 }, customValues: ticks },
      axisLabel: { show: true, customValues: ticks, formatter: fmt(dec), fontSize: p.fs, fontFamily: SANS, color: "#333", margin: p.lm },
      splitLine: { show: true, lineStyle: { color: p.gridC, width: 0.8 } },
    });
    xAxis.push({ ...axisCommon(p.xt, p.xd), min: p.xr[0], max: p.xr[1] });
    yAxis.push({ ...axisCommon(p.yt, p.yd), min: p.yr[0], max: p.yr[1] });
    p.lines.forEach((ln, k) => {
      series.push({
        type: "line", xAxisIndex: i, yAxisIndex: i, data: toPairs(ln.d, ln.s), symbol: "none", showSymbol: false,
        smooth: ln.sm ?? false, clip: true, silent: true, z: ln.op ? 2 : 3 + k * 0.01,
        lineStyle: { color: ln.c, width: ln.w ?? 1, opacity: ln.op ?? 1 }, emphasis: { disabled: true },
      });
    });
    graphic.push(txt(p.L + p.W / 2, p.ty, p.title, p.ts));
    graphic.push(txt(p.L + p.W / 2, p.xlY, "Training steps", p.xlS));
    graphic.push(txt(p.L + p.W, p.offY, "1e6", p.offS, "right"));
    if (p.ret > 0) graphic.push(txt(p.ret, p.T + p.H / 2, "Return", p.retS, "center", SANS, Math.PI / 2));
    if (p.mult) graphic.push(txt(p.L, p.multY ?? p.T - 4, p.mult, p.multS ?? p.fs, "left"));
  });

  // legends
  const aCols = [{ lx: 27, tx: 47 }, { lx: 139, tx: 163 }, { lx: 259, tx: 282 }, { lx: 378, tx: 400 }];
  const aItems: LegItem[] = aLabels.map((t, i) => ({ c: A_COLORS[i], t, lx: aCols[Math.floor(i / 2)].lx, tx: aCols[Math.floor(i / 2)].tx, ly: i % 2 === 0 ? 135.3 : 146.3 }));
  graphic.push(...legend(23, 128, 469, 25, 15, 7.5, aItems));
  graphic.push(...legend(950, 72, 80, 20, 14, 7, [
    { c: BLUE, t: "n_step = None", lx: 953, ly: 77, tx: 971.5 },
    { c: ORANGE, t: "n_step = 10", lx: 953, ly: 87, tx: 971.5 },
  ]));
  graphic.push(...legend(363, 300, 140, 52, 25, 10.8, [
    { c: BLUE, t: "100 success states", lx: 367, ly: 309.5, tx: 398 },
    { c: ORANGE, t: "100 demo states", lx: 367, ly: 325.7, tx: 398 },
    { c: GREEN, t: "1000 demo states", lx: 367, ly: 341.7, tx: 398 },
  ]));
  graphic.push(...legend(868, 326, 159, 29, 20, 8.5, [
    { c: BLUE, t: "use_behavior_policy = True", lx: 871, ly: 333.7, tx: 896 },
    { c: ORANGE, t: "use_behavior_policy = False", lx: 871, ly: 346.7, tx: 896 },
  ]));
  const eCols = [{ lx: 352, tx: 369 }, { lx: 404, tx: 421.5 }, { lx: 457, tx: 476 }];
  const eRowY = [518.2, 527, 535.6];
  const ePos = [[0, 0], [0, 1], [0, 2], [1, 0], [1, 1], [2, 0], [2, 1]];
  graphic.push(...legend(350, 513.5, 159, 26.5, 13, 5.8, eGammaLabels.map((t, i) => ({ c: E_COLORS[i], t, lx: eCols[ePos[i][0]].lx, tx: eCols[ePos[i][0]].tx, ly: eRowY[ePos[i][1]] }))));
  graphic.push(...legend(873, 512.5, 107, 27.5, 20, 8.3, [
    { c: BLUE, t: "RCE", lx: 877, ly: 521.7, tx: 902 },
    { c: ORANGE, t: "RCE + resampling", lx: 877, ly: 533.3, tx: 902, op: 0.55 },
  ]));
  graphic.push(...legend(613, 686, 97, 29, 18, 8, [
    { c: BLUE, t: "RCE", lx: 617, ly: 694, tx: 640 },
    { c: ORANGE, t: "RCE + negatives", lx: 617, ly: 707.3, tx: 640 },
  ]));

  // captions
  graphic.push(txt(254, 186, "(a) Number of success examples", 22, "center", SERIF));
  graphic.push(txt(788, 186, "(b) N-step returns", 22, "center", SERIF));
  graphic.push(txt(282, 423, "(c) Using all states from demonstrations.", 22, "center", SERIF));
  graphic.push(txt(785, 423, "(d) Actions for success examples", 22, "center", SERIF));
  graphic.push(txt(270, 598, "(e) Ablation of discount factor.", 22, "center", SERIF));
  graphic.push(txt(786, 598, "(f) Sampling new success examples.", 22, "center", SERIF));
  graphic.push(txt(522, 772, "(g) Using negative examples.", 22, "center", SERIF));

  return { animation: false, backgroundColor: "#ffffff", grid, xAxis, yAxis, series, graphic: { elements: graphic } };
}

export default function App() {
  const ref = useRef<HTMLDivElement>(null);
  useEffect(() => {
    if (!ref.current) return;
    const chart = echarts.init(ref.current, undefined, { renderer: "svg" });
    chart.setOption(buildOption() as any);
    return () => chart.dispose();
  }, []);
  return <div ref={ref} style={{ position: "fixed", left: 0, top: 0, width: 1037, height: 793, background: "#fff" }} />;
}
